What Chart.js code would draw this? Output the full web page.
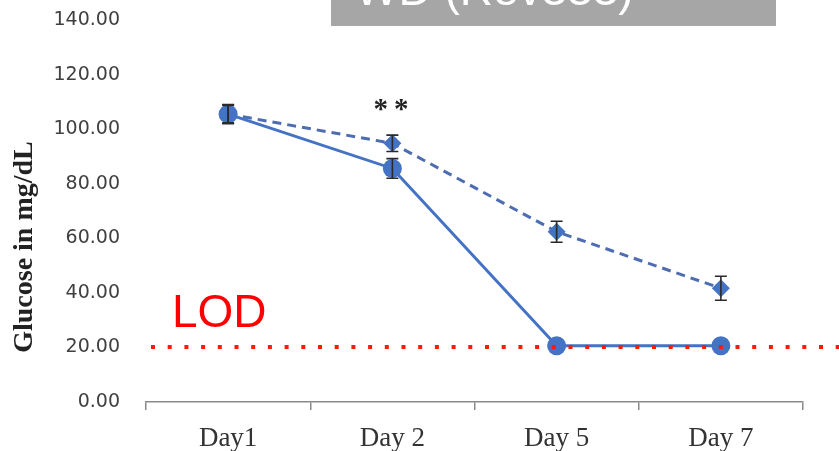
<!DOCTYPE html>
<html>
<head>
<meta charset="utf-8">
<script src="https://cdn.jsdelivr.net/npm/chart.js@4"></script>
<style>
html,body{margin:0;padding:0;background:#fff;}
#wrap{width:839px;height:451px;position:relative;}
</style>
</head>
<body>
<div id="wrap"><canvas id="c" width="839" height="451"></canvas></div>
<script>
const categories = ['Day1', 'Day 2', 'Day 5', 'Day 7'];
const solidValues = [105.5, 85.6, 20.6, 20.6];
const solidErrors = [3.5, 3.6, 0, 0];
const dashedValues = [105.5, 94.8, 62.4, 41.7];
const dashedErrors = [3.2, 3.0, 3.85, 4.4];
const yTicks = [0, 20, 40, 60, 80, 100, 120, 140];
const lodValue = 20;
const lodLabel = 'LOD';
const yTitle = 'Glucose in mg/dL';
const headerText = 'WD (Rev333)';
const sigLabel = '**';
const sigCategory = 1;
const sigValue = 108;

const BLUE = '#4472C4';

const errorBars = {
  id: 'errorBars',
  afterDatasetsDraw(chart) {
    const ctx = chart.ctx, y = chart.scales.y;
    const sets = [[0, solidErrors, solidValues], [1, dashedErrors, dashedValues]];
    ctx.save();
    ctx.strokeStyle = '#2a2a2a';
    ctx.lineWidth = 1.6;
    sets.forEach(([di, errs, vals]) => {
      const meta = chart.getDatasetMeta(di);
      meta.data.forEach((pt, i) => {
        if (!errs[i]) return;
        const yt = y.getPixelForValue(vals[i] + errs[i]);
        const yb = y.getPixelForValue(vals[i] - errs[i]);
        ctx.beginPath();
        ctx.moveTo(pt.x, yt); ctx.lineTo(pt.x, yb);
        ctx.moveTo(pt.x - 6, yt); ctx.lineTo(pt.x + 6, yt);
        ctx.moveTo(pt.x - 6, yb); ctx.lineTo(pt.x + 6, yb);
        ctx.stroke();
      });
    });
    ctx.restore();
  }
};

const extras = {
  id: 'extras',
  afterDraw(chart) {
    const ctx = chart.ctx, ys = chart.scales.y, xs = chart.scales.x, ca = chart.chartArea;
    ctx.save();
    // LOD dotted line
    const ly = Math.round(ys.getPixelForValue(lodValue));
    ctx.strokeStyle = '#ff1a00';
    ctx.lineWidth = 4;
    ctx.setLineDash([4, 12.7]);
    ctx.beginPath();
    ctx.moveTo(151, ly); ctx.lineTo(chart.width, ly);
    ctx.stroke();
    ctx.setLineDash([]);
    // LOD label
    ctx.fillStyle = '#ff0000';
    ctx.font = '46px "Liberation Sans", Arial, sans-serif';
    ctx.textAlign = 'left';
    ctx.textBaseline = 'alphabetic';
    ctx.fillText(lodLabel, ca.left + 26, ly - 20);
    // significance
    ctx.fillStyle = '#222';
    ctx.font = 'bold 29px "Liberation Serif", serif';
    ctx.textAlign = 'left';
    ctx.textBaseline = 'middle';
    ctx.letterSpacing = '6px';
    ctx.fillText(sigLabel, xs.getPixelForValue(sigCategory) - 19, ys.getPixelForValue(sigValue) + 3);
    ctx.letterSpacing = '0px';
    // y title
    ctx.save();
    ctx.translate(25, 247);
    ctx.rotate(-Math.PI / 2);
    ctx.fillStyle = '#222';
    ctx.font = 'bold 28px "Liberation Serif", serif';
    ctx.textAlign = 'center';
    ctx.textBaseline = 'middle';
    ctx.fillText(yTitle, 0, 0);
    ctx.restore();
    // header box
    ctx.fillStyle = '#a6a6a6';
    ctx.fillRect(331, 0, 445, 26);
    ctx.fillStyle = '#ffffff';
    ctx.font = '46px "Liberation Sans", Arial, sans-serif';
    ctx.textAlign = 'left';
    ctx.textBaseline = 'alphabetic';
    ctx.fillText(headerText, 355, 5);
    ctx.restore();
  }
};

new Chart(document.getElementById('c'), {
  type: 'line',
  data: {
    labels: categories,
    datasets: [
      {
        data: solidValues,
        borderColor: BLUE,
        backgroundColor: BLUE,
        borderWidth: 3,
        pointStyle: 'circle',
        pointRadius: 9.5,
        pointBorderWidth: 0,
        tension: 0,
        order: 1
      },
      {
        data: dashedValues,
        borderColor: '#4d6db0',
        backgroundColor: BLUE,
        borderWidth: 3,
        borderDash: [9, 6],
        pointStyle: 'rectRot',
        pointRadius: 9,
        pointBorderWidth: 0,
        tension: 0,
        order: 2
      }
    ]
  },
  options: {
    responsive: false,
    animation: false,
    devicePixelRatio: 1,
    layout: { padding: { top: 20, right: 36, left: 0, bottom: 0 } },
    plugins: { legend: { display: false }, tooltip: { enabled: false } },
    scales: {
      x: {
        offset: true,
        grid: { display: true, drawOnChartArea: false, drawTicks: true, tickLength: 8, color: '#8a8a8a', lineWidth: 1.5, offset: true },
        border: { display: true, color: '#8a8a8a', width: 1.5 },
        ticks: { color: '#333', padding: 13, font: { family: '"Liberation Serif", serif', size: 27 }, maxRotation: 0 },
        afterFit(s) { s.height = 49; }
      },
      y: {
        min: 0, max: 140,
        grid: { display: true, drawOnChartArea: false, drawTicks: true, tickLength: 26, color: 'rgba(0,0,0,0)' },
        border: { display: false },
        afterBuildTicks(s) { s.ticks = yTicks.map(v => ({ value: v })); },
        ticks: { color: '#404040', padding: 0, font: { family: '"DejaVu Sans", sans-serif', size: 19 }, callback: v => Number(v).toFixed(2) },
        afterFit(s) { s.width = 146; }
      }
    }
  },
  plugins: [errorBars, extras]
});
</script>
</body>
</html>
